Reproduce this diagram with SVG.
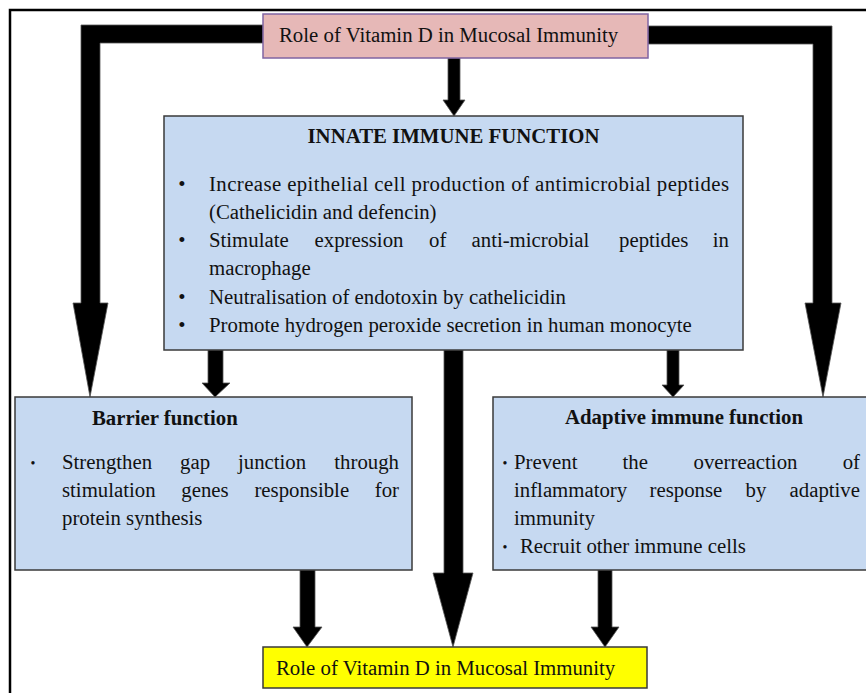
<svg xmlns="http://www.w3.org/2000/svg" width="866" height="693" viewBox="0 0 866 693">
<style>
text{font-family:"Liberation Serif","Times New Roman",serif;font-size:20.8px;fill:#111}
.b{font-weight:bold}
.box{fill:#c6d9f1;stroke:#3a3a3a;stroke-width:1.5}
.arr{fill:#000;stroke:#555;stroke-width:0.8}
.sb{font-size:14px}
</style>
<rect width="866" height="693" fill="#fff"/>
<path d="M10,693 V10 H866" fill="none" stroke="#000" stroke-width="2.5"/>
<g id="connectors">
<polygon class="arr" points="263,25 81,25 81,303 73,303 90,397 108,303 100,303 100,43 263,43"/>
<polygon class="arr" points="648,26 832,26 832,303 841,303 823,397 805,303 813,303 813,44 648,44"/>
<polygon class="arr" points="448,58 460,58 460,100 465,100 454,116 443,100 448,100"/>
<polygon class="arr" points="208,350 223,350 223,383 230,383 215,397 202,383 208,383"/>
<polygon class="arr" points="667,350 679,350 679,385 684,385 673,397 662,385 667,385"/>
<polygon class="arr" points="444,350 463,350 463,573 473,573 453,647 433,573 444,573"/>
<polygon class="arr" points="300,570 315,570 315,627 322,627 307,647 293,627 300,627"/>
<polygon class="arr" points="598,570 612,570 612,627 619,627 605,647 591,627 598,627"/>
</g>
<g id="top">
<rect x="263" y="14" width="385" height="44" fill="#e6b8b7" stroke="#8064a2" stroke-width="1.5"/>
<text x="279" y="42">Role of Vitamin D in Mucosal Immunity</text>
</g>
<g id="innate">
<rect class="box" x="164" y="116" width="579" height="234"/>
<text class="b" x="453.5" y="143" text-anchor="middle">INNATE IMMUNE FUNCTION</text>
<text x="182" y="191" text-anchor="middle">•</text>
<text x="209" y="191" textLength="520" lengthAdjust="spacing">Increase epithelial cell production of antimicrobial peptides</text>
<text x="209" y="219">(Cathelicidin and defencin)</text>
<text x="182" y="247" text-anchor="middle">•</text>
<text y="247"><tspan x="209">Stimulate</tspan><tspan x="314.5">expression</tspan><tspan x="429">of</tspan><tspan x="471.5">anti-microbial</tspan><tspan x="619">peptides</tspan></text>
<text x="729" y="247" text-anchor="end">in</text>
<text x="209" y="275">macrophage</text>
<text x="182" y="304" text-anchor="middle">•</text>
<text x="209" y="304">Neutralisation of endotoxin by cathelicidin</text>
<text x="182" y="332" text-anchor="middle">•</text>
<text x="209" y="332">Promote hydrogen peroxide secretion in human monocyte</text>
</g>
<g id="barrier">
<rect class="box" x="15" y="397" width="397" height="173"/>
<text class="b" x="92" y="425">Barrier function</text>
<text class="sb" x="33" y="468" text-anchor="middle">•</text>
<text y="469"><tspan x="62">Strengthen</tspan><tspan x="180">gap</tspan><tspan x="238">junction</tspan></text>
<text x="399" y="469" text-anchor="end">through</text>
<text y="497"><tspan x="62">stimulation</tspan><tspan x="181.3">genes</tspan><tspan x="254.4">responsible</tspan></text>
<text x="399" y="497" text-anchor="end">for</text>
<text x="62" y="525">protein synthesis</text>
</g>
<g id="adaptive">
<rect class="box" x="493" y="397" width="380" height="173"/>
<text class="b" x="565" y="424">Adaptive immune function</text>
<text class="sb" x="505" y="468" text-anchor="middle">•</text>
<text y="469"><tspan x="514">Prevent</tspan><tspan x="622.5">the</tspan><tspan x="693.5">overreaction</tspan></text>
<text x="860" y="469" text-anchor="end">of</text>
<text y="497"><tspan x="514">inflammatory</tspan><tspan x="649.5">response</tspan><tspan x="745.5">by</tspan></text>
<text x="860" y="497" text-anchor="end">adaptive</text>
<text x="514" y="525">immunity</text>
<text class="sb" x="505" y="552" text-anchor="middle">•</text>
<text x="520" y="553">Recruit other immune cells</text>
</g>
<g id="bottom">
<rect x="263" y="647" width="384" height="41" fill="#ffff00" stroke="#3a3a3a" stroke-width="1.5"/>
<text x="276" y="675">Role of Vitamin D in Mucosal Immunity</text>
</g>
</svg>
